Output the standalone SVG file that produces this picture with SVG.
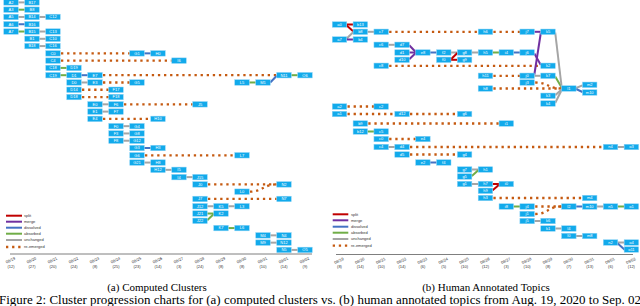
<svg xmlns="http://www.w3.org/2000/svg" width="640" height="306" viewBox="0 0 640 306">
<style>
.n use{fill:#12aaeb;stroke:#8fd3f5;stroke-width:.5}
.n text{fill:#fff;font-family:"Liberation Sans",Arial,sans-serif;font-size:4px;text-anchor:middle}
line,path{fill:none;stroke-width:2}
.gy{stroke:#a5a5a5}.gr{stroke:#70ad47}.bl{stroke:#4472c4}.pu{stroke:#7030a0}.rd{stroke:#c00000}
.dt{stroke:#c55a11;stroke-width:2.3;stroke-dasharray:2.3 3.8}
.ax{stroke:#7f7f7f;stroke-width:1}
.lg{font-family:"Liberation Sans",Arial,sans-serif;font-size:4px;fill:#333}
.d{font-family:"Liberation Sans",Arial,sans-serif;font-size:4px;fill:#333;text-anchor:middle}
.cap{font-family:"Liberation Serif","Times New Roman",serif;fill:#000}
</style>
<defs>
<rect id="bx" x="-7.25" y="-2.75" width="14.5" height="5.5"/>
</defs>
<g id="connectors">
<line class="gy" x1="18.25" y1="2.4" x2="24.75" y2="2.4"/>
<line class="gr" x1="18.25" y1="9.68" x2="24.75" y2="9.68"/>
<line class="gy" x1="18.25" y1="16.96" x2="24.75" y2="16.96"/>
<line class="gy" x1="39.25" y1="16.96" x2="45.75" y2="16.96"/>
<line class="bl" x1="18.25" y1="24.24" x2="24.75" y2="24.24"/>
<line class="gr" x1="18.25" y1="31.52" x2="24.75" y2="31.52"/>
<line class="gy" x1="39.25" y1="31.52" x2="45.75" y2="31.52"/>
<line class="gy" x1="39.25" y1="38.8" x2="45.75" y2="38.8"/>
<line class="gy" x1="39.25" y1="46.08" x2="45.75" y2="46.08"/>
<line class="dt" x1="61" y1="53.36" x2="129.75" y2="53.36"/>
<line class="bl" x1="144.25" y1="53.36" x2="150.75" y2="53.36"/>
<line class="dt" x1="61" y1="60.64" x2="171.75" y2="60.64"/>
<line class="gr" x1="60.25" y1="67.92" x2="66.75" y2="67.92"/>
<line class="gr" x1="60.25" y1="75.2" x2="66.75" y2="75.2"/>
<line class="bl" x1="81.25" y1="75.2" x2="87.75" y2="75.2"/>
<line class="dt" x1="103" y1="75.2" x2="276.75" y2="75.2"/>
<line class="gr" x1="291.25" y1="75.2" x2="297.75" y2="75.2"/>
<line class="gy" x1="81.25" y1="82.48" x2="87.75" y2="82.48"/>
<line class="dt" x1="103" y1="82.48" x2="129.75" y2="82.48"/>
<line class="gr" x1="249.25" y1="82.48" x2="255.75" y2="82.48"/>
<line class="bl" x1="270.25" y1="82.48" x2="276.75" y2="75.7"/>
<line class="dt" x1="82" y1="89.76" x2="108.75" y2="89.76"/>
<line class="dt" x1="82" y1="97.04" x2="108.75" y2="97.04"/>
<line class="gy" x1="102.25" y1="104.32" x2="108.75" y2="104.32"/>
<line class="dt" x1="124" y1="104.32" x2="192.75" y2="104.32"/>
<line class="gy" x1="102.25" y1="111.6" x2="108.75" y2="111.6"/>
<line class="dt" x1="103" y1="118.88" x2="150.75" y2="118.88"/>
<line class="gy" x1="123.25" y1="126.16" x2="129.75" y2="126.16"/>
<line class="gy" x1="123.25" y1="133.44" x2="129.75" y2="133.44"/>
<line class="gy" x1="123.25" y1="140.72" x2="129.75" y2="140.72"/>
<line class="bl" x1="144.25" y1="148" x2="150.75" y2="148"/>
<line class="dt" x1="145" y1="155.28" x2="234.75" y2="155.28"/>
<line class="gy" x1="144.25" y1="162.56" x2="150.75" y2="162.56"/>
<line class="gy" x1="165.25" y1="169.84" x2="171.75" y2="169.84"/>
<line class="gy" x1="186.25" y1="177.12" x2="192.75" y2="177.12"/>
<line class="dt" x1="208" y1="184.4" x2="276.75" y2="184.4"/>
<path class="dt" d="M250 191.68 C262 191.68 264 184.4 276.75 184.4"/>
<line class="dt" x1="208" y1="198.96" x2="276.75" y2="198.96"/>
<line class="gy" x1="207.25" y1="206.24" x2="213.75" y2="206.24"/>
<line class="gy" x1="228.25" y1="206.24" x2="234.75" y2="206.24"/>
<line class="gr" x1="207.25" y1="213.52" x2="213.75" y2="213.52"/>
<line class="gr" x1="207.25" y1="220.3" x2="213.75" y2="214"/>
<line class="gr" x1="228.25" y1="228.08" x2="234.75" y2="228.08"/>
<line class="gy" x1="270.25" y1="235.36" x2="276.75" y2="235.36"/>
<line class="gy" x1="270.25" y1="242.64" x2="276.75" y2="242.64"/>
<line class="gy" x1="291.25" y1="249.92" x2="297.75" y2="249.92"/>
<line class="rd" x1="346.7" y1="24.5" x2="353.15" y2="24.5"/>
<line class="rd" x1="346.7" y1="25.5" x2="353.15" y2="31.3"/>
<line class="gy" x1="346.7" y1="38.5" x2="353.15" y2="32.3"/>
<line class="pu" x1="346.7" y1="39.5" x2="353.15" y2="39.5"/>
<line class="gy" x1="367.55" y1="31.8" x2="374" y2="31.8"/>
<line class="dt" x1="389.2" y1="31.8" x2="478.25" y2="31.8"/>
<line class="dt" x1="493.4" y1="31.8" x2="519.95" y2="31.8"/>
<line class="pu" x1="534.35" y1="31.8" x2="540.8" y2="31.8"/>
<line class="gy" x1="388.4" y1="44.8" x2="394.85" y2="44.8"/>
<line class="pu" x1="409.25" y1="45.3" x2="415.7" y2="52"/>
<line class="pu" x1="409.25" y1="52.5" x2="415.7" y2="52.5"/>
<line class="pu" x1="409.25" y1="59.3" x2="415.7" y2="53"/>
<line class="bl" x1="430.1" y1="52.5" x2="436.55" y2="52.5"/>
<line class="gy" x1="450.95" y1="52.5" x2="457.4" y2="52.5"/>
<line class="rd" x1="450.95" y1="59.3" x2="457.4" y2="53"/>
<line class="rd" x1="450.95" y1="59.8" x2="457.4" y2="59.8"/>
<line class="gy" x1="471.8" y1="52.5" x2="478.25" y2="52.5"/>
<line class="gr" x1="492.65" y1="52.5" x2="499.1" y2="52.5"/>
<line class="bl" x1="513.5" y1="52.5" x2="519.95" y2="52.5"/>
<line class="dt" x1="389.2" y1="65.8" x2="540.8" y2="65.8"/>
<line class="dt" x1="493.4" y1="75.8" x2="519.95" y2="75.8"/>
<line class="gy" x1="534.35" y1="75.8" x2="540.8" y2="75.8"/>
<line class="pu" x1="534.35" y1="74.5" x2="540.8" y2="33"/>
<line class="pu" x1="534.35" y1="53.5" x2="540.8" y2="65"/>
<line class="gr" x1="555.2" y1="76.5" x2="561.65" y2="87.5"/>
<line class="gy" x1="555.2" y1="32.5" x2="561.65" y2="87"/>
<line class="dt" x1="493.4" y1="88.5" x2="561.65" y2="88.5"/>
<path class="dt" d="M535.2 82.5 C548 82.5 548 88.5 561.65 88.5"/>
<line class="gy" x1="555.2" y1="95.3" x2="561.65" y2="89.5"/>
<line class="gy" x1="555.2" y1="103" x2="561.65" y2="90"/>
<line class="gy" x1="576.05" y1="88" x2="582.5" y2="85.3"/>
<line class="bl" x1="576.05" y1="89" x2="582.5" y2="92"/>
<line class="dt" x1="347.5" y1="106.5" x2="374" y2="106.5"/>
<line class="dt" x1="347.5" y1="114" x2="394.85" y2="114"/>
<line class="dt" x1="410" y1="114" x2="457.4" y2="114"/>
<line class="dt" x1="368.3" y1="123.5" x2="499.1" y2="123.5"/>
<line class="gr" x1="367.55" y1="131.5" x2="374" y2="131.5"/>
<line class="dt" x1="389.2" y1="139" x2="415.7" y2="139"/>
<line class="gy" x1="388.4" y1="147" x2="394.85" y2="147"/>
<line class="dt" x1="410" y1="147" x2="603.35" y2="147"/>
<line class="gy" x1="617.75" y1="147" x2="624.2" y2="147"/>
<line class="dt" x1="410" y1="154.5" x2="457.4" y2="154.5"/>
<line class="bl" x1="430.1" y1="162.5" x2="436.55" y2="162.5"/>
<line class="gy" x1="471.8" y1="169.5" x2="478.25" y2="169.5"/>
<line class="gr" x1="471.8" y1="176" x2="478.25" y2="170.3"/>
<line class="gy" x1="471.8" y1="184" x2="478.25" y2="184"/>
<line class="rd" x1="492.65" y1="184" x2="499.1" y2="184"/>
<line class="rd" x1="492.65" y1="190.3" x2="499.1" y2="184.8"/>
<line class="dt" x1="493.4" y1="198" x2="582.5" y2="198"/>
<line class="gr" x1="513.5" y1="206.5" x2="519.95" y2="206.5"/>
<line class="dt" x1="535.2" y1="206.5" x2="561.65" y2="206.5"/>
<path class="dt" d="M535.2 214 C548 214 548 206.5 561.65 206.5"/>
<line class="bl" x1="576.05" y1="206.5" x2="582.5" y2="206.5"/>
<line class="gy" x1="596.9" y1="206.5" x2="603.35" y2="206.5"/>
<line class="gr" x1="617.75" y1="206.5" x2="624.2" y2="206.5"/>
<line class="gy" x1="534.35" y1="221" x2="540.8" y2="221"/>
<line class="gy" x1="555.2" y1="228.5" x2="561.65" y2="228.5"/>
<line class="gy" x1="576.05" y1="236" x2="582.5" y2="236"/>
<line class="gy" x1="617.75" y1="242.5" x2="624.2" y2="242.5"/>
<line class="bl" x1="617.75" y1="243.5" x2="625" y2="250"/>
</g>
<g id="nodes-left">
<g id="A2" class="n" transform="translate(11,2.4)"><use href="#bx"/><text y="1.4">A2</text></g>
<g id="B17" class="n" transform="translate(32,2.4)"><use href="#bx"/><text y="1.4">B17</text></g>
<g id="A3" class="n" transform="translate(11,9.68)"><use href="#bx"/><text y="1.4">A3</text></g>
<g id="B8" class="n" transform="translate(32,9.68)"><use href="#bx"/><text y="1.4">B8</text></g>
<g id="A5" class="n" transform="translate(11,16.96)"><use href="#bx"/><text y="1.4">A5</text></g>
<g id="B14" class="n" transform="translate(32,16.96)"><use href="#bx"/><text y="1.4">B14</text></g>
<g id="C12" class="n" transform="translate(53,16.96)"><use href="#bx"/><text y="1.4">C12</text></g>
<g id="A6" class="n" transform="translate(11,24.24)"><use href="#bx"/><text y="1.4">A6</text></g>
<g id="B16" class="n" transform="translate(32,24.24)"><use href="#bx"/><text y="1.4">B16</text></g>
<g id="A7" class="n" transform="translate(11,31.52)"><use href="#bx"/><text y="1.4">A7</text></g>
<g id="B15" class="n" transform="translate(32,31.52)"><use href="#bx"/><text y="1.4">B15</text></g>
<g id="C13" class="n" transform="translate(53,31.52)"><use href="#bx"/><text y="1.4">C13</text></g>
<g id="B1" class="n" transform="translate(32,38.8)"><use href="#bx"/><text y="1.4">B1</text></g>
<g id="C10" class="n" transform="translate(53,38.8)"><use href="#bx"/><text y="1.4">C10</text></g>
<g id="B18" class="n" transform="translate(32,46.08)"><use href="#bx"/><text y="1.4">B18</text></g>
<g id="C16" class="n" transform="translate(53,46.08)"><use href="#bx"/><text y="1.4">C16</text></g>
<g id="C0" class="n" transform="translate(53,53.36)"><use href="#bx"/><text y="1.4">C0</text></g>
<g id="G1" class="n" transform="translate(137,53.36)"><use href="#bx"/><text y="1.4">G1</text></g>
<g id="H0" class="n" transform="translate(158,53.36)"><use href="#bx"/><text y="1.4">H0</text></g>
<g id="C4" class="n" transform="translate(53,60.64)"><use href="#bx"/><text y="1.4">C4</text></g>
<g id="I6" class="n" transform="translate(179,60.64)"><use href="#bx"/><text y="1.4">I6</text></g>
<g id="C18" class="n" transform="translate(53,67.92)"><use href="#bx"/><text y="1.4">C18</text></g>
<g id="D19" class="n" transform="translate(74,67.92)"><use href="#bx"/><text y="1.4">D19</text></g>
<g id="C19" class="n" transform="translate(53,75.2)"><use href="#bx"/><text y="1.4">C19</text></g>
<g id="D1" class="n" transform="translate(74,75.2)"><use href="#bx"/><text y="1.4">D1</text></g>
<g id="E7" class="n" transform="translate(95,75.2)"><use href="#bx"/><text y="1.4">E7</text></g>
<g id="N11" class="n" transform="translate(284,75.2)"><use href="#bx"/><text y="1.4">N11</text></g>
<g id="O6" class="n" transform="translate(305,75.2)"><use href="#bx"/><text y="1.4">O6</text></g>
<g id="D0" class="n" transform="translate(74,82.48)"><use href="#bx"/><text y="1.4">D0</text></g>
<g id="E3" class="n" transform="translate(95,82.48)"><use href="#bx"/><text y="1.4">E3</text></g>
<g id="G5" class="n" transform="translate(137,82.48)"><use href="#bx"/><text y="1.4">G5</text></g>
<g id="L5" class="n" transform="translate(242,82.48)"><use href="#bx"/><text y="1.4">L5</text></g>
<g id="M1" class="n" transform="translate(263,82.48)"><use href="#bx"/><text y="1.4">M1</text></g>
<g id="D14" class="n" transform="translate(74,89.76)"><use href="#bx"/><text y="1.4">D14</text></g>
<g id="F17" class="n" transform="translate(116,89.76)"><use href="#bx"/><text y="1.4">F17</text></g>
<g id="D18" class="n" transform="translate(74,97.04)"><use href="#bx"/><text y="1.4">D18</text></g>
<g id="F18" class="n" transform="translate(116,97.04)"><use href="#bx"/><text y="1.4">F18</text></g>
<g id="E0" class="n" transform="translate(95,104.32)"><use href="#bx"/><text y="1.4">E0</text></g>
<g id="F6" class="n" transform="translate(116,104.32)"><use href="#bx"/><text y="1.4">F6</text></g>
<g id="J5" class="n" transform="translate(200,104.32)"><use href="#bx"/><text y="1.4">J5</text></g>
<g id="E1" class="n" transform="translate(95,111.6)"><use href="#bx"/><text y="1.4">E1</text></g>
<g id="F7" class="n" transform="translate(116,111.6)"><use href="#bx"/><text y="1.4">F7</text></g>
<g id="E4" class="n" transform="translate(95,118.88)"><use href="#bx"/><text y="1.4">E4</text></g>
<g id="H10" class="n" transform="translate(158,118.88)"><use href="#bx"/><text y="1.4">H10</text></g>
<g id="F0" class="n" transform="translate(116,126.16)"><use href="#bx"/><text y="1.4">F0</text></g>
<g id="G4" class="n" transform="translate(137,126.16)"><use href="#bx"/><text y="1.4">G4</text></g>
<g id="F3" class="n" transform="translate(116,133.44)"><use href="#bx"/><text y="1.4">F3</text></g>
<g id="G8" class="n" transform="translate(137,133.44)"><use href="#bx"/><text y="1.4">G8</text></g>
<g id="F8" class="n" transform="translate(116,140.72)"><use href="#bx"/><text y="1.4">F8</text></g>
<g id="G12" class="n" transform="translate(137,140.72)"><use href="#bx"/><text y="1.4">G12</text></g>
<g id="G3" class="n" transform="translate(137,148)"><use href="#bx"/><text y="1.4">G3</text></g>
<g id="H3" class="n" transform="translate(158,148)"><use href="#bx"/><text y="1.4">H3</text></g>
<g id="G6" class="n" transform="translate(137,155.28)"><use href="#bx"/><text y="1.4">G6</text></g>
<g id="L7" class="n" transform="translate(242,155.28)"><use href="#bx"/><text y="1.4">L7</text></g>
<g id="G21" class="n" transform="translate(137,162.56)"><use href="#bx"/><text y="1.4">G21</text></g>
<g id="H8" class="n" transform="translate(158,162.56)"><use href="#bx"/><text y="1.4">H8</text></g>
<g id="H12" class="n" transform="translate(158,169.84)"><use href="#bx"/><text y="1.4">H12</text></g>
<g id="I5" class="n" transform="translate(179,169.84)"><use href="#bx"/><text y="1.4">I5</text></g>
<g id="I4" class="n" transform="translate(179,177.12)"><use href="#bx"/><text y="1.4">I4</text></g>
<g id="J15" class="n" transform="translate(200,177.12)"><use href="#bx"/><text y="1.4">J15</text></g>
<g id="J0" class="n" transform="translate(200,184.4)"><use href="#bx"/><text y="1.4">J0</text></g>
<g id="N2" class="n" transform="translate(284,184.4)"><use href="#bx"/><text y="1.4">N2</text></g>
<g id="L0" class="n" transform="translate(242,191.68)"><use href="#bx"/><text y="1.4">L0</text></g>
<g id="J7" class="n" transform="translate(200,198.96)"><use href="#bx"/><text y="1.4">J7</text></g>
<g id="N7" class="n" transform="translate(284,198.96)"><use href="#bx"/><text y="1.4">N7</text></g>
<g id="J12" class="n" transform="translate(200,206.24)"><use href="#bx"/><text y="1.4">J12</text></g>
<g id="K5" class="n" transform="translate(221,206.24)"><use href="#bx"/><text y="1.4">K5</text></g>
<g id="L3" class="n" transform="translate(242,206.24)"><use href="#bx"/><text y="1.4">L3</text></g>
<g id="J21" class="n" transform="translate(200,213.52)"><use href="#bx"/><text y="1.4">J21</text></g>
<g id="K2" class="n" transform="translate(221,213.52)"><use href="#bx"/><text y="1.4">K2</text></g>
<g id="J22" class="n" transform="translate(200,220.8)"><use href="#bx"/><text y="1.4">J22</text></g>
<g id="K7" class="n" transform="translate(221,228.08)"><use href="#bx"/><text y="1.4">K7</text></g>
<g id="L6" class="n" transform="translate(242,228.08)"><use href="#bx"/><text y="1.4">L6</text></g>
<g id="M4" class="n" transform="translate(263,235.36)"><use href="#bx"/><text y="1.4">M4</text></g>
<g id="N4" class="n" transform="translate(284,235.36)"><use href="#bx"/><text y="1.4">N4</text></g>
<g id="M9" class="n" transform="translate(263,242.64)"><use href="#bx"/><text y="1.4">M9</text></g>
<g id="N12" class="n" transform="translate(284,242.64)"><use href="#bx"/><text y="1.4">N12</text></g>
<g id="N5" class="n" transform="translate(284,249.92)"><use href="#bx"/><text y="1.4">N5</text></g>
<g id="O5" class="n" transform="translate(305,249.92)"><use href="#bx"/><text y="1.4">O5</text></g>
</g>
<g id="nodes-right">
<g id="a0" class="n" transform="translate(339.5,24.5)"><use href="#bx"/><text y="1.4">a0</text></g>
<g id="b13" class="n" transform="translate(360.35,24.5)"><use href="#bx"/><text y="1.4">b13</text></g>
<g id="b8" class="n" transform="translate(360.35,31.8)"><use href="#bx"/><text y="1.4">b8</text></g>
<g id="c7" class="n" transform="translate(381.2,31.8)"><use href="#bx"/><text y="1.4">c7</text></g>
<g id="a7" class="n" transform="translate(339.5,39.5)"><use href="#bx"/><text y="1.4">a7</text></g>
<g id="b4" class="n" transform="translate(360.35,39.5)"><use href="#bx"/><text y="1.4">b4</text></g>
<g id="c6" class="n" transform="translate(381.2,44.8)"><use href="#bx"/><text y="1.4">c6</text></g>
<g id="d7" class="n" transform="translate(402.05,44.8)"><use href="#bx"/><text y="1.4">d7</text></g>
<g id="d1" class="n" transform="translate(402.05,52.5)"><use href="#bx"/><text y="1.4">d1</text></g>
<g id="e8" class="n" transform="translate(422.9,52.5)"><use href="#bx"/><text y="1.4">e8</text></g>
<g id="f2" class="n" transform="translate(443.75,52.5)"><use href="#bx"/><text y="1.4">f2</text></g>
<g id="g8" class="n" transform="translate(464.6,52.5)"><use href="#bx"/><text y="1.4">g8</text></g>
<g id="h5" class="n" transform="translate(485.45,52.5)"><use href="#bx"/><text y="1.4">h5</text></g>
<g id="i4" class="n" transform="translate(506.3,52.5)"><use href="#bx"/><text y="1.4">i4</text></g>
<g id="j6" class="n" transform="translate(527.15,52.5)"><use href="#bx"/><text y="1.4">j6</text></g>
<g id="d10" class="n" transform="translate(402.05,59.8)"><use href="#bx"/><text y="1.4">d10</text></g>
<g id="f0" class="n" transform="translate(443.75,59.8)"><use href="#bx"/><text y="1.4">f0</text></g>
<g id="g9" class="n" transform="translate(464.6,59.8)"><use href="#bx"/><text y="1.4">g9</text></g>
<g id="c8" class="n" transform="translate(381.2,65.8)"><use href="#bx"/><text y="1.4">c8</text></g>
<g id="k2" class="n" transform="translate(548,65.8)"><use href="#bx"/><text y="1.4">k2</text></g>
<g id="h6" class="n" transform="translate(485.45,31.8)"><use href="#bx"/><text y="1.4">h6</text></g>
<g id="j7" class="n" transform="translate(527.15,31.8)"><use href="#bx"/><text y="1.4">j7</text></g>
<g id="k5" class="n" transform="translate(548,31.8)"><use href="#bx"/><text y="1.4">k5</text></g>
<g id="h11" class="n" transform="translate(485.45,75.8)"><use href="#bx"/><text y="1.4">h11</text></g>
<g id="j0" class="n" transform="translate(527.15,75.8)"><use href="#bx"/><text y="1.4">j0</text></g>
<g id="k7" class="n" transform="translate(548,75.8)"><use href="#bx"/><text y="1.4">k7</text></g>
<g id="j3" class="n" transform="translate(527.15,82.5)"><use href="#bx"/><text y="1.4">j3</text></g>
<g id="h8" class="n" transform="translate(485.45,88.5)"><use href="#bx"/><text y="1.4">h8</text></g>
<g id="l1" class="n" transform="translate(568.85,88.5)"><use href="#bx"/><text y="1.4">l1</text></g>
<g id="m2" class="n" transform="translate(589.7,84.8)"><use href="#bx"/><text y="1.4">m2</text></g>
<g id="m10" class="n" transform="translate(589.7,92.5)"><use href="#bx"/><text y="1.4">m10</text></g>
<g id="k3" class="n" transform="translate(548,95.8)"><use href="#bx"/><text y="1.4">k3</text></g>
<g id="k4" class="n" transform="translate(548,103.5)"><use href="#bx"/><text y="1.4">k4</text></g>
<g id="a2" class="n" transform="translate(339.5,106.5)"><use href="#bx"/><text y="1.4">a2</text></g>
<g id="c2" class="n" transform="translate(381.2,106.5)"><use href="#bx"/><text y="1.4">c2</text></g>
<g id="a1" class="n" transform="translate(339.5,114)"><use href="#bx"/><text y="1.4">a1</text></g>
<g id="d12" class="n" transform="translate(402.05,114)"><use href="#bx"/><text y="1.4">d12</text></g>
<g id="g6" class="n" transform="translate(464.6,114)"><use href="#bx"/><text y="1.4">g6</text></g>
<g id="b9" class="n" transform="translate(360.35,123.5)"><use href="#bx"/><text y="1.4">b9</text></g>
<g id="i1" class="n" transform="translate(506.3,123.5)"><use href="#bx"/><text y="1.4">i1</text></g>
<g id="b12" class="n" transform="translate(360.35,131.5)"><use href="#bx"/><text y="1.4">b12</text></g>
<g id="c5" class="n" transform="translate(381.2,131.5)"><use href="#bx"/><text y="1.4">c5</text></g>
<g id="c0" class="n" transform="translate(381.2,139)"><use href="#bx"/><text y="1.4">c0</text></g>
<g id="e4" class="n" transform="translate(422.9,139)"><use href="#bx"/><text y="1.4">e4</text></g>
<g id="c4" class="n" transform="translate(381.2,147)"><use href="#bx"/><text y="1.4">c4</text></g>
<g id="d4" class="n" transform="translate(402.05,147)"><use href="#bx"/><text y="1.4">d4</text></g>
<g id="n4" class="n" transform="translate(610.55,147)"><use href="#bx"/><text y="1.4">n4</text></g>
<g id="o3" class="n" transform="translate(631.4,147)"><use href="#bx"/><text y="1.4">o3</text></g>
<g id="d5" class="n" transform="translate(402.05,154.5)"><use href="#bx"/><text y="1.4">d5</text></g>
<g id="g4" class="n" transform="translate(464.6,154.5)"><use href="#bx"/><text y="1.4">g4</text></g>
<g id="e2" class="n" transform="translate(422.9,162.5)"><use href="#bx"/><text y="1.4">e2</text></g>
<g id="f4" class="n" transform="translate(443.75,162.5)"><use href="#bx"/><text y="1.4">f4</text></g>
<g id="g7" class="n" transform="translate(464.6,169.5)"><use href="#bx"/><text y="1.4">g7</text></g>
<g id="h1" class="n" transform="translate(485.45,169.5)"><use href="#bx"/><text y="1.4">h1</text></g>
<g id="g5" class="n" transform="translate(464.6,176.5)"><use href="#bx"/><text y="1.4">g5</text></g>
<g id="g1" class="n" transform="translate(464.6,184)"><use href="#bx"/><text y="1.4">g1</text></g>
<g id="h7" class="n" transform="translate(485.45,184)"><use href="#bx"/><text y="1.4">h7</text></g>
<g id="i0" class="n" transform="translate(506.3,184)"><use href="#bx"/><text y="1.4">i0</text></g>
<g id="h9" class="n" transform="translate(485.45,190.8)"><use href="#bx"/><text y="1.4">h9</text></g>
<g id="h3" class="n" transform="translate(485.45,198)"><use href="#bx"/><text y="1.4">h3</text></g>
<g id="m4" class="n" transform="translate(589.7,198)"><use href="#bx"/><text y="1.4">m4</text></g>
<g id="i8" class="n" transform="translate(506.3,206.5)"><use href="#bx"/><text y="1.4">i8</text></g>
<g id="j4" class="n" transform="translate(527.15,206.5)"><use href="#bx"/><text y="1.4">j4</text></g>
<g id="l2" class="n" transform="translate(568.85,206.5)"><use href="#bx"/><text y="1.4">l2</text></g>
<g id="m0" class="n" transform="translate(589.7,206.5)"><use href="#bx"/><text y="1.4">m10</text></g>
<g id="n5" class="n" transform="translate(610.55,206.5)"><use href="#bx"/><text y="1.4">n5</text></g>
<g id="o1" class="n" transform="translate(631.4,206.5)"><use href="#bx"/><text y="1.4">o1</text></g>
<g id="j1" class="n" transform="translate(527.15,214)"><use href="#bx"/><text y="1.4">j1</text></g>
<g id="j5" class="n" transform="translate(527.15,221)"><use href="#bx"/><text y="1.4">j5</text></g>
<g id="k6" class="n" transform="translate(548,221)"><use href="#bx"/><text y="1.4">k6</text></g>
<g id="k1" class="n" transform="translate(548,228.5)"><use href="#bx"/><text y="1.4">k1</text></g>
<g id="l4" class="n" transform="translate(568.85,228.5)"><use href="#bx"/><text y="1.4">l4</text></g>
<g id="l0" class="n" transform="translate(568.85,236)"><use href="#bx"/><text y="1.4">l0</text></g>
<g id="m8" class="n" transform="translate(589.7,236)"><use href="#bx"/><text y="1.4">m8</text></g>
<g id="n2" class="n" transform="translate(610.55,242.5)"><use href="#bx"/><text y="1.4">n2</text></g>
<g id="o4" class="n" transform="translate(631.4,242.5)"><use href="#bx"/><text y="1.4">o4</text></g>
<g id="o11" class="n" transform="translate(631.4,249.5)"><use href="#bx"/><text y="1.4">o11</text></g>
</g>
<g id="legend-left">
<line class="rd" x1="6" y1="215.7" x2="22" y2="215.7"/><text class="lg" x="24" y="217.1">split</text>
<line class="pu" x1="6" y1="221.7" x2="22" y2="221.7"/><text class="lg" x="24" y="223.1">merge</text>
<line class="bl" x1="6" y1="227.7" x2="22" y2="227.7"/><text class="lg" x="24" y="229.1">dissolved</text>
<line class="gr" x1="6" y1="233.7" x2="22" y2="233.7"/><text class="lg" x="24" y="235.1">absorbed</text>
<line class="gy" x1="6" y1="240" x2="22" y2="240"/><text class="lg" x="24" y="241.4">unchanged</text>
<line class="dt" x1="6" y1="247" x2="22" y2="247"/><text class="lg" x="24" y="248.4">re-emerged</text>
</g>
<g id="legend-right">
<line class="rd" x1="332.7" y1="214.3" x2="348.3" y2="214.3"/><text class="lg" x="351" y="215.7">split</text>
<line class="pu" x1="332.7" y1="220.3" x2="348.3" y2="220.3"/><text class="lg" x="351" y="221.7">merge</text>
<line class="bl" x1="332.7" y1="226.7" x2="348.3" y2="226.7"/><text class="lg" x="351" y="228.1">dissolved</text>
<line class="gr" x1="332.7" y1="232.7" x2="348.3" y2="232.7"/><text class="lg" x="351" y="234.1">absorbed</text>
<line class="gy" x1="332.7" y1="239" x2="348.3" y2="239"/><text class="lg" x="351" y="240.4">unchanged</text>
<line class="dt" x1="332.7" y1="245.7" x2="348.3" y2="245.7"/><text class="lg" x="351" y="247.1">re-emerged</text>
</g>
<g id="axis-left">
<line class="ax" x1="10" y1="254" x2="312" y2="254"/>
<text class="d" transform="translate(11,261.5) rotate(-25)">08/19</text><text class="d" x="11" y="267.5">(12)</text>
<text class="d" transform="translate(32,261.5) rotate(-25)">08/20</text><text class="d" x="32" y="267.5">(27)</text>
<text class="d" transform="translate(53,261.5) rotate(-25)">08/21</text><text class="d" x="53" y="267.5">(20)</text>
<text class="d" transform="translate(74,261.5) rotate(-25)">08/22</text><text class="d" x="74" y="267.5">(24)</text>
<text class="d" transform="translate(95,261.5) rotate(-25)">08/23</text><text class="d" x="95" y="267.5">(8)</text>
<text class="d" transform="translate(116,261.5) rotate(-25)">08/24</text><text class="d" x="116" y="267.5">(25)</text>
<text class="d" transform="translate(137,261.5) rotate(-25)">08/25</text><text class="d" x="137" y="267.5">(23)</text>
<text class="d" transform="translate(158,261.5) rotate(-25)">08/26</text><text class="d" x="158" y="267.5">(14)</text>
<text class="d" transform="translate(179,261.5) rotate(-25)">08/27</text><text class="d" x="179" y="267.5">(3)</text>
<text class="d" transform="translate(200,261.5) rotate(-25)">08/28</text><text class="d" x="200" y="267.5">(24)</text>
<text class="d" transform="translate(221,261.5) rotate(-25)">08/29</text><text class="d" x="221" y="267.5">(8)</text>
<text class="d" transform="translate(242,261.5) rotate(-25)">08/30</text><text class="d" x="242" y="267.5">(8)</text>
<text class="d" transform="translate(263,261.5) rotate(-25)">08/31</text><text class="d" x="263" y="267.5">(10)</text>
<text class="d" transform="translate(284,261.5) rotate(-25)">09/01</text><text class="d" x="284" y="267.5">(14)</text>
<text class="d" transform="translate(305,261.5) rotate(-25)">09/02</text><text class="d" x="305" y="267.5">(9)</text>
</g>
<g id="axis-right">
<line class="ax" x1="336" y1="254.5" x2="633" y2="254.5"/>
<text class="d" transform="translate(339.5,262) rotate(-25)">08/19</text><text class="d" x="339.5" y="268">(8)</text>
<text class="d" transform="translate(360.35,262) rotate(-25)">08/20</text><text class="d" x="360.35" y="268">(14)</text>
<text class="d" transform="translate(381.2,262) rotate(-25)">08/21</text><text class="d" x="381.2" y="268">(10)</text>
<text class="d" transform="translate(402.05,262) rotate(-25)">08/22</text><text class="d" x="402.05" y="268">(14)</text>
<text class="d" transform="translate(422.9,262) rotate(-25)">08/23</text><text class="d" x="422.9" y="268">(6)</text>
<text class="d" transform="translate(443.75,262) rotate(-25)">08/24</text><text class="d" x="443.75" y="268">(5)</text>
<text class="d" transform="translate(464.6,262) rotate(-25)">08/25</text><text class="d" x="464.6" y="268">(10)</text>
<text class="d" transform="translate(485.45,262) rotate(-25)">08/26</text><text class="d" x="485.45" y="268">(12)</text>
<text class="d" transform="translate(506.3,262) rotate(-25)">08/27</text><text class="d" x="506.3" y="268">(3)</text>
<text class="d" transform="translate(527.15,262) rotate(-25)">08/28</text><text class="d" x="527.15" y="268">(10)</text>
<text class="d" transform="translate(548,262) rotate(-25)">08/29</text><text class="d" x="548" y="268">(8)</text>
<text class="d" transform="translate(568.85,262) rotate(-25)">08/30</text><text class="d" x="568.85" y="268">(7)</text>
<text class="d" transform="translate(589.7,262) rotate(-25)">08/31</text><text class="d" x="589.7" y="268">(13)</text>
<text class="d" transform="translate(610.55,262) rotate(-25)">09/01</text><text class="d" x="610.55" y="268">(6)</text>
<text class="d" transform="translate(631.4,262) rotate(-25)">09/02</text><text class="d" x="631.4" y="268">(12)</text>
</g>
<text class="cap" x="157" y="290.5" font-size="11" text-anchor="middle">(a) Computed Clusters</text>
<text class="cap" x="486" y="290.5" font-size="11" text-anchor="middle">(b) Human Annotated Topics</text>
<text class="cap" x="-1" y="304" font-size="12" textLength="642" lengthAdjust="spacingAndGlyphs">Figure 2: Cluster progression charts for (a) computed clusters vs. (b) human annotated topics from Aug. 19, 2020 to Sep. 02</text>
</svg>
